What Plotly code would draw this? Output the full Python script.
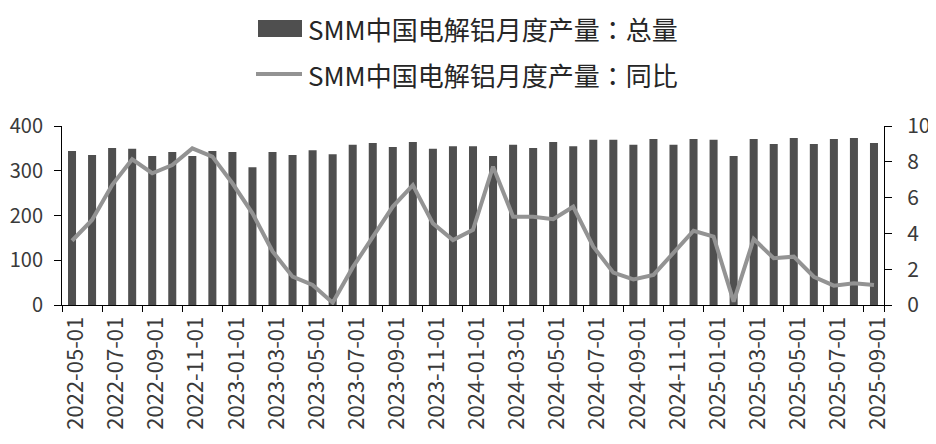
import plotly.graph_objects as go

dates = ["2022-05-01","2022-06-01","2022-07-01","2022-08-01","2022-09-01","2022-10-01","2022-11-01","2022-12-01",
         "2023-01-01","2023-02-01","2023-03-01","2023-04-01","2023-05-01","2023-06-01","2023-07-01","2023-08-01",
         "2023-09-01","2023-10-01","2023-11-01","2023-12-01","2024-01-01","2024-02-01","2024-03-01","2024-04-01",
         "2024-05-01","2024-06-01","2024-07-01","2024-08-01","2024-09-01","2024-10-01","2024-11-01","2024-12-01",
         "2025-01-01","2025-02-01","2025-03-01","2025-04-01","2025-05-01","2025-06-01","2025-07-01","2025-08-01",
         "2025-09-01"]
total = [344, 335, 351, 349, 333, 342, 333, 344,
         342, 308, 342, 335, 346, 337, 358, 362,
         353, 364, 349, 355, 355, 333, 358, 351,
         364, 355, 369, 369, 358, 371, 358, 371,
         369, 333, 371, 360, 373, 360, 371, 373,
         362]
yoy = [3.59, 4.75, 6.7, 8.14, 7.36, 7.82, 8.75, 8.29,
       6.8, 5.12, 3.0, 1.58, 1.12, 0.13, 2.1, 3.82,
       5.5, 6.7, 4.56, 3.63, 4.2, 7.73, 4.93, 4.93,
       4.79, 5.49, 3.26, 1.81, 1.43, 1.68, 2.89, 4.15,
       3.82, 0.19, 3.69, 2.61, 2.7, 1.58, 1.08, 1.21,
       1.12]
tick_labels = dates[::2]
name_total = "SMM中国电解铝月度产量：总量"
name_yoy = "SMM中国电解铝月度产量：同比"

FONT = "Noto Sans CJK SC"
LEG_FONT = "Noto Sans CJK TC"
BAR_COLOR = "#4f4f4f"
LINE_COLOR = "#939393"
TICK_COLOR = "#3a3a3a"

fig = go.Figure()
fig.add_trace(go.Bar(x=dates, y=total, name=name_total, marker_color=BAR_COLOR,
                     marker_line_width=0, yaxis="y"))
fig.add_trace(go.Scatter(x=dates, y=yoy, name=name_yoy, mode="lines",
                         line=dict(color=LINE_COLOR, width=4), yaxis="y2"))

# page has an 8px body margin; target screen coords are offset by it
OFF = 8
W, H = 936 - OFF, 444 - OFF
L, T = 62 - OFF, 126 - OFF
R = W - (884 - OFF)
B = H - (305 - OFF)
pw, ph = W - L - R, H - T - B

def px(x):
    return (x - OFF - L) / pw

def py(y):
    return (H - B - (y - OFF)) / ph

fig.update_layout(
    width=W, height=H,
    margin=dict(l=L, r=R, t=T, b=B, autoexpand=False),
    paper_bgcolor="white", plot_bgcolor="white",
    showlegend=False,
    bargap=0.6,
    font=dict(family=FONT, color=TICK_COLOR),
    xaxis=dict(type="category", tickmode="array", tickvals=tick_labels, ticktext=tick_labels,
               tickangle=-90, ticks="outside", tickson="boundaries", ticklen=6, tickcolor="black",
               showline=True, linecolor="black", linewidth=1, showgrid=False, automargin=False,
               ticklabelshift=4, ticklabelstandoff=2,
               range=[-0.5, len(dates) - 0.5], tickfont=dict(size=22, color=TICK_COLOR)),
    yaxis=dict(range=[0, 400], tickvals=[0, 100, 200, 300, 400], ticks="outside", ticklen=7,
               tickcolor="black", showline=True, linecolor="black", linewidth=1, showgrid=False,
               zeroline=False, automargin=False, tickfont=dict(size=20, color=TICK_COLOR),
               ticklabelstandoff=7),
    yaxis2=dict(range=[0, 10], tickvals=[0, 2, 4, 6, 8, 10], overlaying="y", side="right",
                ticks="outside", ticklen=7, tickcolor="black", showline=True, linecolor="black",
                linewidth=1, showgrid=False, zeroline=False, automargin=False,
                tickfont=dict(size=21, color=TICK_COLOR), ticklabelstandoff=11),
)

# custom legend
fig.add_shape(type="rect", xref="paper", yref="paper", x0=px(258), x1=px(302), y0=py(37), y1=py(20),
              fillcolor=BAR_COLOR, line_width=0)
fig.add_shape(type="line", xref="paper", yref="paper", x0=px(256), x1=px(302), y0=py(74), y1=py(74),
              line=dict(color=LINE_COLOR, width=4))
fig.add_annotation(xref="paper", yref="paper", x=px(306), y=py(28), xanchor="left", yanchor="middle",
                   text=name_total, showarrow=False, font=dict(size=26, color="#262626", family=LEG_FONT))
fig.add_annotation(xref="paper", yref="paper", x=px(306), y=py(74), xanchor="left", yanchor="middle",
                   text=name_yoy, showarrow=False, font=dict(size=26, color="#262626", family=LEG_FONT))

fig.write_html("out.html")
